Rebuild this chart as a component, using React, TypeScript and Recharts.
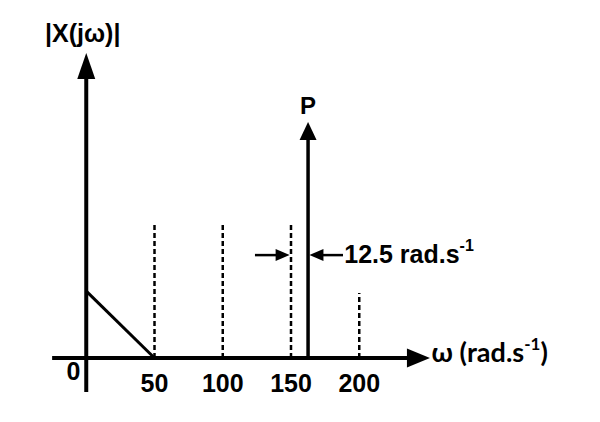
import React from "react";
import {
  ComposedChart,
  Line,
  XAxis,
  YAxis,
  ReferenceLine,
  ReferenceDot,
} from "recharts";

// frequency axis (rad/s) and magnitude in arbitrary units
const freqTicks = [50, 100, 150, 200];
const markerHeights = [44.3, 44.3, 44.3, 21.7];
const spectrum = [
  { w: 0, mag: 22.3 },
  { w: 50, mag: 0 },
];
const impulseFreq = 162.5;
const impulseHeight = 78.7;
const wAxisRange = [-25, 251.8];
const magAxisRange = [-11.3, 101.7];
const gapLevel = 34.3;
const gapArrowFrom = [123.6, 188.1];
const gapArrowTips = [149, 163.5];

const ARIAL = "'Liberation Sans', Arial, sans-serif";
const LABEL_FONT = "Lato, 'Open Sans', sans-serif";

type Dir = "up" | "right" | "left";

function Head({ cx, cy, dir, len, half }: { cx: number; cy: number; dir: Dir; len: number; half: number }) {
  let pts = "";
  if (dir === "up") pts = `${cx},${cy} ${cx - half},${cy + len} ${cx + half},${cy + len}`;
  if (dir === "right") pts = `${cx},${cy} ${cx - len},${cy - half} ${cx - len},${cy + half}`;
  if (dir === "left") pts = `${cx},${cy} ${cx + len},${cy - half} ${cx + len},${cy + half}`;
  return <polygon points={pts} fill="#000" />;
}

const headShape = (dir: Dir, len: number, half: number) => (p: any) =>
  <Head cx={p.cx} cy={p.cy} dir={dir} len={len} half={half} />;

export default function App() {
  return (
    <ComposedChart
      width={600}
      height={422}
      data={spectrum}
      margin={{ top: 20, right: 44, left: 10, bottom: 12 }}
    >
      <XAxis
        dataKey="w"
        type="number"
        domain={[-50, 350]}
        ticks={freqTicks}
        axisLine={false}
        tickLine={false}
        tickMargin={10}
        height={60}
        tick={{ fill: "#000", fontSize: 25, fontWeight: "bold", fontFamily: ARIAL }}
      />
      <YAxis type="number" domain={[0, 110]} hide />

      {/* dashed markers at the tick frequencies */}
      {freqTicks.map((t, i) => (
        <ReferenceLine
          key={t}
          segment={[{ x: t, y: 0 }, { x: t, y: markerHeights[i] }]}
          stroke="#000"
          strokeWidth={2.5}
          strokeDasharray="5 3"
          ifOverflow="visible"
        />
      ))}

      {/* axes */}
      <ReferenceLine
        segment={[{ x: wAxisRange[0], y: 0 }, { x: wAxisRange[1] - 12, y: 0 }]}
        stroke="#000"
        strokeWidth={4}
        ifOverflow="visible"
      />
      <ReferenceDot x={wAxisRange[1]} y={0} ifOverflow="visible" shape={headShape("right", 23, 9.5)} />
      <ReferenceLine
        segment={[{ x: 0, y: magAxisRange[0] }, { x: 0, y: magAxisRange[1] - 6 }]}
        stroke="#000"
        strokeWidth={4}
        ifOverflow="visible"
      />
      <ReferenceDot x={0} y={magAxisRange[1]} ifOverflow="visible" shape={headShape("up", 26, 9)} />

      {/* impulse */}
      <ReferenceLine
        segment={[{ x: impulseFreq, y: 0 }, { x: impulseFreq, y: impulseHeight - 4 }]}
        stroke="#000"
        strokeWidth={3.5}
        ifOverflow="visible"
      />
      <ReferenceDot x={impulseFreq} y={impulseHeight} ifOverflow="visible" shape={headShape("up", 18, 8.5)} />

      {/* 12.5 rad/s gap arrows */}
      <ReferenceLine
        segment={[{ x: gapArrowFrom[0], y: gapLevel }, { x: gapArrowTips[0] - 6, y: gapLevel }]}
        stroke="#000"
        strokeWidth={2.5}
        ifOverflow="visible"
      />
      <ReferenceDot x={gapArrowTips[0]} y={gapLevel} ifOverflow="visible" shape={headShape("right", 14, 6)} />
      <ReferenceLine
        segment={[{ x: gapArrowTips[1] + 6, y: gapLevel }, { x: gapArrowFrom[1], y: gapLevel }]}
        stroke="#000"
        strokeWidth={2.5}
        ifOverflow="visible"
      />
      <ReferenceDot x={gapArrowTips[1]} y={gapLevel} ifOverflow="visible" shape={headShape("left", 14, 6)} />

      <Line
        dataKey="mag"
        stroke="#000"
        strokeWidth={3}
        dot={false}
        isAnimationActive={false}
      />

      {/* text */}
      <ReferenceDot
        x={-30.2}
        y={105.3}
        ifOverflow="visible"
        shape={(p: any) => (
          <text x={p.cx} y={p.cy} fontSize={25} fontWeight="bold" fontFamily={ARIAL} fill="#000">
            |X(jω)|
          </text>
        )}
      />
      <ReferenceDot
        x={impulseFreq}
        y={81.3}
        ifOverflow="visible"
        shape={(p: any) => (
          <text x={p.cx} y={p.cy} textAnchor="middle" fontSize={24} fontWeight="bold" fontFamily={ARIAL} fill="#000">
            P
          </text>
        )}
      />
      <ReferenceDot
        x={-9.3}
        y={-7.3}
        ifOverflow="visible"
        shape={(p: any) => (
          <text x={p.cx} y={p.cy} textAnchor="middle" fontSize={25} fontWeight="bold" fontFamily={ARIAL} fill="#000">
            0
          </text>
        )}
      />
      <ReferenceDot
        x={189}
        y={31.7}
        ifOverflow="visible"
        shape={(p: any) => (
          <text x={p.cx} y={p.cy} fontSize={25} fontWeight="bold" fontFamily={ARIAL} fill="#000">
            12.5 rad.s
            <tspan fontSize={16} dy={-12}>-1</tspan>
          </text>
        )}
      />
      <ReferenceDot
        x={253}
        y={-1.3}
        ifOverflow="visible"
        shape={(p: any) => (
          <text x={p.cx} y={p.cy} fontSize={27} fontWeight="bold" fontFamily={LABEL_FONT} fill="#000">
            ω (rad.s
            <tspan fontSize={17} dy={-12}>-1</tspan>
            <tspan dy={12}>)</tspan>
          </text>
        )}
      />
    </ComposedChart>
  );
}
